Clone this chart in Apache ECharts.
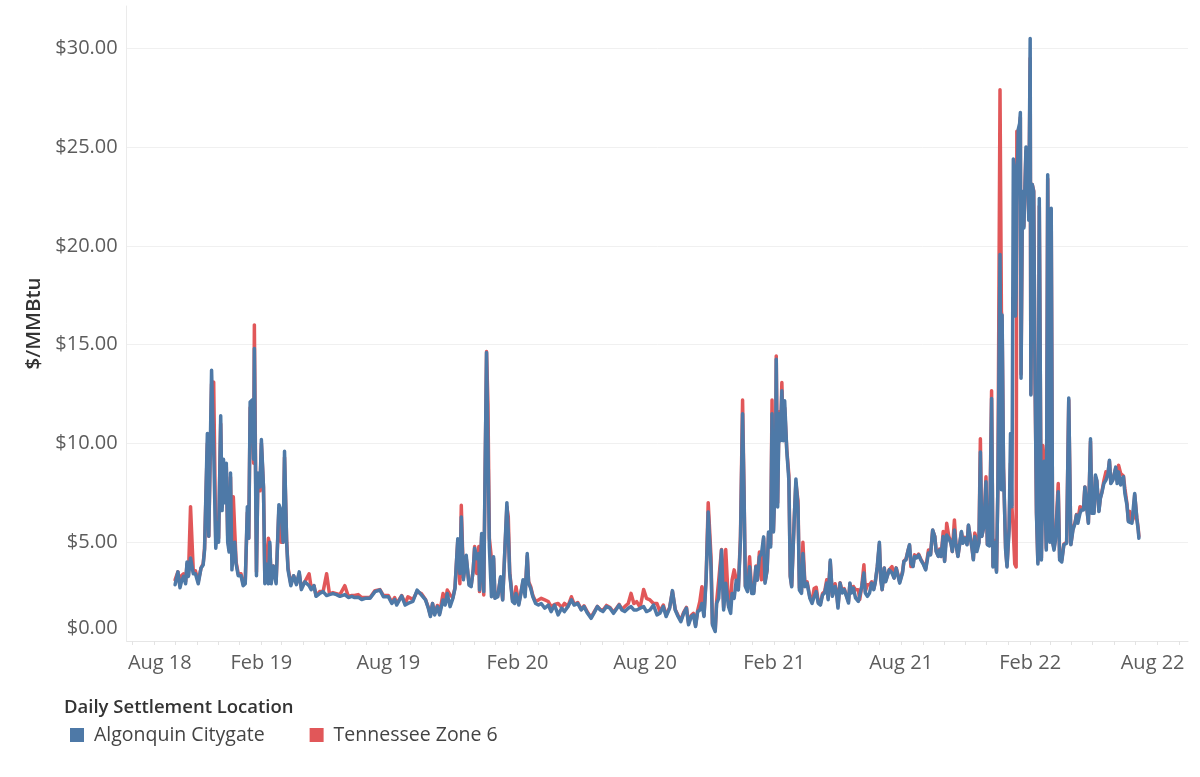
<!DOCTYPE html>
<html>
<head>
<meta charset="utf-8">
<script src="https://cdn.jsdelivr.net/npm/echarts@6.0.0/dist/echarts.min.js"></script>
<style>
  html, body { margin: 0; padding: 0; background: #ffffff; }
  #chart { width: 1200px; height: 777px; }
</style>
</head>
<body>
<div id="chart"></div>
<script>
// ---- Data (Daily settlement prices, $/MMBtu) ----
const dates = [
'2018-10-01','2018-10-05','2018-10-08','2018-10-10','2018-10-13','2018-10-16','2018-10-18','2018-10-20','2018-10-23','2018-10-27',
'2018-10-30','2018-11-03','2018-11-07','2018-11-10','2018-11-12','2018-11-16','2018-11-18','2018-11-22','2018-11-25','2018-11-28',
'2018-12-01','2018-12-02','2018-12-05','2018-12-07','2018-12-09','2018-12-11','2018-12-13','2018-12-15','2018-12-17','2018-12-19',
'2018-12-21','2018-12-23','2018-12-25','2018-12-27','2018-12-30','2019-01-03','2019-01-06','2019-01-09','2019-01-12','2019-01-14',
'2019-01-16','2019-01-19','2019-01-21','2019-01-22','2019-01-25','2019-01-27','2019-01-30','2019-02-01','2019-02-04','2019-02-06',
'2019-02-08','2019-02-11','2019-02-13','2019-02-15','2019-02-18','2019-02-20','2019-02-22','2019-02-26','2019-03-01','2019-03-04',
'2019-03-06','2019-03-09','2019-03-11','2019-03-15','2019-03-19','2019-03-23','2019-03-27','2019-03-30','2019-04-04','2019-04-10',
'2019-04-13','2019-04-17','2019-04-20','2019-04-25','2019-04-30','2019-05-05','2019-05-09','2019-05-14','2019-05-19','2019-05-24',
'2019-05-31','2019-06-05','2019-06-10','2019-06-14','2019-06-19','2019-06-24','2019-06-29','2019-07-06','2019-07-13','2019-07-20',
'2019-07-25','2019-08-01','2019-08-06','2019-08-10','2019-08-13','2019-08-20','2019-08-25','2019-08-29','2019-09-05','2019-09-11',
'2019-09-17','2019-09-23','2019-09-27','2019-09-30','2019-10-03','2019-10-06','2019-10-10','2019-10-13','2019-10-18','2019-10-21',
'2019-10-24','2019-10-28','2019-11-01','2019-11-04','2019-11-08','2019-11-11','2019-11-13','2019-11-16','2019-11-20','2019-11-24',
'2019-11-27','2019-11-30','2019-12-02','2019-12-05','2019-12-08','2019-12-09','2019-12-12','2019-12-15','2019-12-17','2019-12-19',
'2019-12-21','2019-12-23','2019-12-26','2019-12-29','2019-12-31','2020-01-04','2020-01-08','2020-01-11','2020-01-13','2020-01-17',
'2020-01-19','2020-01-21','2020-01-25','2020-01-28','2020-01-30','2020-02-03','2020-02-06','2020-02-09','2020-02-12','2020-02-15',
'2020-02-17','2020-02-20','2020-02-23','2020-02-27','2020-03-02','2020-03-06','2020-03-11','2020-03-16','2020-03-20','2020-03-25',
'2020-03-30','2020-04-04','2020-04-08','2020-04-13','2020-04-18','2020-04-22','2020-04-27','2020-05-02','2020-05-06','2020-05-11',
'2020-05-16','2020-05-20','2020-05-25','2020-05-29','2020-06-02','2020-06-07','2020-06-12','2020-06-17','2020-06-22','2020-06-25',
'2020-06-29','2020-07-03','2020-07-08','2020-07-12','2020-07-16','2020-07-20','2020-07-25','2020-07-30','2020-08-03','2020-08-08',
'2020-08-13','2020-08-18','2020-08-22','2020-08-27','2020-08-31','2020-09-05','2020-09-09','2020-09-13','2020-09-17','2020-09-21',
'2020-09-25','2020-09-29','2020-10-02','2020-10-06','2020-10-09','2020-10-12','2020-10-15','2020-10-18','2020-10-21','2020-10-24',
'2020-10-27','2020-10-30','2020-11-03','2020-11-05','2020-11-09','2020-11-11','2020-11-14','2020-11-18','2020-11-21','2020-11-24',
'2020-11-28','2020-12-01','2020-12-03','2020-12-06','2020-12-09','2020-12-12','2020-12-15','2020-12-18','2020-12-20','2020-12-22',
'2020-12-25','2020-12-28','2020-12-31','2021-01-03','2021-01-06','2021-01-08','2021-01-11','2021-01-14','2021-01-17','2021-01-19',
'2021-01-22','2021-01-24','2021-01-27','2021-01-29','2021-01-31','2021-02-03','2021-02-04','2021-02-06','2021-02-08','2021-02-10',
'2021-02-12','2021-02-14','2021-02-16','2021-02-19','2021-02-22','2021-02-24','2021-02-26','2021-03-02','2021-03-04','2021-03-07',
'2021-03-09','2021-03-12','2021-03-14','2021-03-17','2021-03-20','2021-03-24','2021-03-27','2021-03-30','2021-04-02','2021-04-05',
'2021-04-08','2021-04-11','2021-04-14','2021-04-17','2021-04-19','2021-04-22','2021-04-25','2021-04-29','2021-05-01','2021-05-03',
'2021-05-06','2021-05-09','2021-05-12','2021-05-15','2021-05-18','2021-05-20','2021-05-22','2021-05-25','2021-05-28','2021-06-01',
'2021-06-03','2021-06-06','2021-06-09','2021-06-11','2021-06-14','2021-06-17','2021-06-20','2021-06-23','2021-06-25','2021-06-28',
'2021-07-01','2021-07-03','2021-07-05','2021-07-08','2021-07-10','2021-07-12','2021-07-15','2021-07-17','2021-07-19','2021-07-22',
'2021-07-25','2021-07-27','2021-07-30','2021-08-03','2021-08-05','2021-08-08','2021-08-11','2021-08-13','2021-08-15','2021-08-18',
'2021-08-20','2021-08-23','2021-08-26','2021-08-29','2021-09-02','2021-09-05','2021-09-07','2021-09-09','2021-09-12','2021-09-15',
'2021-09-18','2021-09-20','2021-09-23','2021-09-25','2021-09-27','2021-09-30','2021-10-02','2021-10-05','2021-10-08','2021-10-11',
'2021-10-13','2021-10-16','2021-10-18','2021-10-21','2021-10-23','2021-10-26','2021-10-28','2021-10-31','2021-11-03','2021-11-05',
'2021-11-07','2021-11-10','2021-11-12','2021-11-14','2021-11-17','2021-11-20','2021-11-22','2021-11-24','2021-11-27','2021-11-30',
'2021-12-02','2021-12-05','2021-12-08','2021-12-10','2021-12-12','2021-12-15','2021-12-17','2021-12-20','2021-12-22','2021-12-23',
'2021-12-25','2021-12-28','2021-12-30','2022-01-02','2022-01-04','2022-01-06','2022-01-08','2022-01-10','2022-01-11','2022-01-12',
'2022-01-13','2022-01-15','2022-01-17','2022-01-18','2022-01-19','2022-01-21','2022-01-23','2022-01-26','2022-01-28','2022-01-30',
'2022-02-01','2022-02-02','2022-02-04','2022-02-06','2022-02-08','2022-02-10','2022-02-12','2022-02-14','2022-02-17','2022-02-19',
'2022-02-21','2022-02-24','2022-02-26','2022-02-28','2022-03-01','2022-03-03','2022-03-05','2022-03-07','2022-03-09','2022-03-13',
'2022-03-15','2022-03-18','2022-03-21','2022-03-25','2022-03-28','2022-03-31','2022-04-03','2022-04-06','2022-04-08','2022-04-10',
'2022-04-13','2022-04-15','2022-04-18','2022-04-20','2022-04-23','2022-04-25','2022-04-28','2022-04-30','2022-05-03','2022-05-05',
'2022-05-07','2022-05-10','2022-05-12','2022-05-14','2022-05-17','2022-05-20','2022-05-23','2022-05-25','2022-05-27','2022-05-30',
'2022-06-03','2022-06-05','2022-06-07','2022-06-10','2022-06-12','2022-06-14','2022-06-16','2022-06-19','2022-06-21','2022-06-23',
'2022-06-26','2022-06-28','2022-06-30','2022-07-03','2022-07-05','2022-07-06'
];

const algonquin = [
2.85,3.5,2.7,3.0,3.27,2.9,4.0,3.27,4.2,3.4,
3.4,2.9,3.7,3.85,4.6,10.5,5.3,13.7,9.65,4.7,
6.0,5.0,11.4,6.6,9.2,7.0,9.0,5.0,4.5,8.5,
3.6,4.5,5.0,3.9,3.3,3.3,2.8,2.9,6.8,5.2,
12.1,12.2,9.2,14.8,3.3,8.5,7.8,10.2,7.8,2.9,
3.9,2.9,5.0,2.9,3.8,3.8,2.9,6.9,6.6,5.0,
9.6,5.0,3.6,2.8,3.3,2.85,3.5,2.6,3.0,2.8,
2.6,2.8,2.26,2.4,2.5,2.3,2.35,2.4,2.35,2.26,
2.35,2.2,2.26,2.2,2.22,2.1,2.16,2.16,2.5,2.58,
2.24,2.24,1.9,2.1,1.82,2.28,1.82,1.9,2.0,2.58,
2.33,2.08,1.66,1.24,1.9,1.32,1.74,1.32,2.08,1.82,
2.4,1.74,2.16,2.66,5.18,3.42,6.28,3.1,4.34,2.83,
2.75,3.6,4.7,4.17,4.43,2.58,5.44,2.5,8.8,14.6,
10.0,4.76,2.24,4.26,2.16,2.24,3.25,2.08,2.16,7.0,
5.5,3.42,2.0,1.9,2.4,1.82,2.41,3.1,2.24,4.43,
2.92,2.66,2.24,1.9,1.82,1.9,1.66,1.82,1.49,1.82,
1.32,1.66,1.49,1.74,2.08,1.82,1.9,1.57,1.74,1.4,
1.15,1.4,1.74,1.57,1.49,1.74,1.66,1.4,1.66,1.82,
1.57,1.49,1.66,1.74,1.57,1.57,1.66,1.74,1.49,1.57,
1.82,1.32,1.4,1.74,1.24,1.66,2.55,1.57,1.24,0.98,
1.4,1.66,0.82,1.24,1.32,0.73,1.49,1.57,1.9,1.24,
3.08,6.53,3.76,0.82,0.48,1.9,2.16,4.6,1.57,2.92,
1.74,1.4,2.41,2.16,3.08,2.58,5.1,11.5,7.6,2.75,
2.5,3.76,2.41,2.41,3.76,3.08,4.26,4.43,5.27,2.92,
3.6,5.52,4.76,11.5,5.52,8.8,14.26,6.78,11.5,10.14,
12.66,10.14,12.16,9.64,8.13,3.25,2.75,6.45,8.2,6.78,
2.58,2.41,4.43,2.75,2.92,2.16,1.9,2.24,2.5,1.9,
1.82,2.33,2.43,2.93,2.09,4.1,2.26,2.76,2.43,1.67,
2.93,2.43,2.6,2.26,1.92,2.93,2.43,2.68,2.18,2.0,
2.0,2.76,3.44,2.43,2.26,2.43,2.93,2.6,2.93,3.77,
5.0,3.1,2.6,3.69,3.0,3.1,3.6,3.69,3.44,3.18,
3.69,3.77,2.93,3.44,4.03,4.11,4.6,4.87,3.94,3.77,
4.28,4.2,4.36,4.11,3.86,3.6,3.52,4.45,4.36,5.62,
5.29,4.53,4.28,4.61,4.28,5.29,4.03,5.37,5.2,4.95,
4.53,5.62,4.95,4.28,4.78,5.54,4.95,5.2,4.87,5.87,
5.37,4.7,4.11,5.29,4.53,4.95,9.57,5.29,5.79,8.06,
4.87,4.81,12.27,3.75,5.0,3.48,7.83,19.56,7.66,16.5,
8.72,4.6,3.75,5.7,10.5,6.8,24.4,23.8,16.45,17.6,
22.0,25.9,26.2,26.75,13.3,22.75,20.9,25.0,24.7,21.3,
30.5,12.45,23.1,22.75,13.2,6.4,3.9,22.4,4.1,8.4,
9.1,4.6,23.6,23.5,5.0,21.9,5.0,4.6,5.1,7.55,
4.1,4.0,4.87,4.95,12.3,4.87,5.62,5.96,6.38,5.96,
6.46,6.63,6.63,7.8,6.63,5.96,10.24,6.46,6.46,8.4,
8.14,6.55,7.2,7.47,7.97,8.14,8.48,9.15,7.97,8.14,
8.8,7.97,8.56,7.9,8.2,8.31,7.47,6.88,6.04,5.96,
5.96,5.96,7.47,6.2,5.62,5.2
];

const tennessee = [
3.1,3.5,2.8,3.3,3.4,3.0,3.9,3.3,6.8,3.5,
3.55,3.0,3.7,3.9,4.7,10.0,5.3,13.0,13.1,5.0,
6.0,5.2,11.0,6.8,9.0,7.2,8.8,5.3,4.6,8.3,
4.2,7.3,5.6,4.0,3.4,3.4,2.9,3.0,6.5,5.2,
11.8,12.0,9.0,16.0,3.5,8.2,7.6,10.0,7.8,3.0,
3.9,5.2,4.8,3.1,3.8,3.9,3.0,6.7,5.0,5.0,
9.3,5.1,3.7,2.9,3.3,2.9,3.4,2.7,3.0,3.4,
2.7,2.8,2.3,2.5,2.5,3.4,2.4,2.45,2.4,2.35,
2.8,2.25,2.3,2.3,2.35,2.2,2.2,2.2,2.55,2.6,
2.3,2.3,1.95,2.2,1.9,2.3,1.9,2.24,2.1,2.5,
2.4,2.1,1.7,1.3,1.9,1.4,1.8,1.4,2.4,1.9,
2.58,2.33,2.2,2.7,5.1,2.9,6.87,3.2,4.2,2.9,
2.8,3.6,4.78,3.42,4.78,2.5,5.3,2.33,8.6,14.65,
12.0,5.2,4.17,4.17,2.2,2.3,3.2,2.1,2.2,6.8,
6.28,3.5,2.1,2.0,2.75,1.9,2.45,3.0,2.4,4.3,
3.0,2.75,2.3,2.0,2.08,2.16,2.08,2.0,1.74,1.85,
1.9,1.7,1.9,1.75,2.24,1.85,1.95,1.6,1.78,1.45,
1.2,1.45,1.75,1.6,1.55,1.8,1.7,1.45,1.7,1.85,
1.6,1.74,1.9,2.41,1.9,1.99,1.7,2.61,2.16,2.08,
1.9,1.9,1.5,1.82,1.3,1.7,2.5,1.6,1.3,1.05,
1.45,1.7,0.9,1.3,1.4,0.8,1.55,1.99,2.75,1.3,
3.2,7.0,4.26,0.9,0.55,2.0,3.08,4.63,1.7,4.63,
1.8,2.0,3.08,3.6,3.1,2.7,5.3,12.2,7.8,2.8,
2.6,4.26,2.5,2.5,3.8,3.1,4.5,3.1,5.2,3.0,
3.6,5.44,4.9,12.2,5.6,9.0,14.43,7.0,11.6,10.2,
13.08,10.2,11.8,9.7,8.4,3.3,2.8,6.5,8.0,7.1,
2.7,2.5,5.0,2.8,3.0,2.2,2.0,2.66,2.72,1.95,
1.9,2.4,2.5,3.1,2.2,4.0,2.3,2.9,2.5,1.75,
2.95,2.5,2.65,2.3,2.0,2.9,2.5,2.76,2.6,2.6,
2.1,2.8,3.86,2.5,2.85,2.85,3.0,2.65,2.95,3.7,
4.9,3.2,2.6,3.7,3.05,3.15,3.6,3.7,3.77,3.2,
3.7,3.8,3.0,3.5,4.05,4.15,4.6,4.85,3.77,3.8,
4.36,4.25,4.4,4.15,3.9,3.65,3.55,4.61,4.4,5.6,
5.3,4.55,4.3,4.65,4.28,5.54,4.05,5.96,5.3,5.0,
4.53,6.13,5.0,4.3,4.8,5.5,5.11,5.25,4.9,5.85,
5.4,4.75,4.15,5.46,5.11,5.0,10.24,5.3,5.8,8.31,
4.9,4.85,12.66,3.8,5.1,3.55,7.9,27.9,16.7,16.2,
8.8,4.7,3.8,5.8,9.0,6.8,5.5,3.9,4.0,3.75,
25.8,25.6,26.0,26.5,13.5,22.5,21.0,24.8,24.5,21.5,
29.5,12.5,23.1,22.8,13.0,6.5,4.0,22.0,4.2,9.9,
9.0,4.7,23.4,23.3,5.1,21.6,5.0,4.7,5.2,7.97,
4.2,4.1,4.9,5.0,12.2,4.9,5.7,6.0,6.4,6.1,
6.8,6.7,6.7,7.8,6.7,6.0,10.1,6.5,6.55,8.3,
8.1,6.6,7.25,7.5,8.1,8.56,8.5,9.1,8.0,8.2,
8.75,8.1,8.9,8.48,8.48,8.35,7.72,6.95,6.1,6.55,
6.05,6.2,7.4,6.25,5.7,5.3
];

// Axis tick labels
const xTickLabels = ['Aug 18','Feb 19','Aug 19','Feb 20','Aug 20','Feb 21','Aug 21','Feb 22','Aug 22'];
const xTickDates  = ['2018-08-01','2019-02-01','2019-08-01','2020-02-01','2020-08-01','2021-02-01','2021-08-01','2022-02-01','2022-08-01'];
const yTickValues = [0, 5, 10, 15, 20, 25, 30];

const seriesNames = ['Algonquin Citygate', 'Tennessee Zone 6'];
const seriesColors = ['#4e79a7', '#e15759'];

// ---- helpers ----
function ts(s) {
  const p = s.split('-').map(Number);
  return Date.UTC(p[0], p[1] - 1, p[2]);
}
const monthTicks = [];
{
  let y = 2018, m = 7;
  while (y < 2022 || (y === 2022 && m <= 8)) {
    monthTicks.push(Date.UTC(y, m, 1));
    m++;
    if (m > 11) { m = 0; y++; }
  }
}
const labelTicks = xTickDates.map(ts);
const labelMap = {};
labelTicks.forEach((t, i) => { labelMap[t] = i; });

const FONT = "'Open Sans', 'Noto Sans', sans-serif";
const LABEL_COLOR = '#5c5c5c';
const AX_FS = 20;

const chart = echarts.init(document.getElementById('chart'), null, { renderer: 'canvas' });
chart.setOption({
  animation: false,
  backgroundColor: '#ffffff',
  title: {
    text: 'Daily Settlement Location',
    left: 64, top: 697, padding: 0,
    textStyle: { fontFamily: FONT, fontSize: 18.5, fontWeight: 600, color: '#333333', lineHeight: 22 }
  },
  legend: {
    data: seriesNames,
    left: 70, top: 725, padding: 0,
    icon: 'rect', itemWidth: 14, itemHeight: 14, itemGap: 45,
    selectedMode: false,
    textStyle: { fontFamily: FONT, fontSize: 19.5, color: '#444444', padding: [0, 0, 0, 5], lineHeight: 19 }
  },
  grid: { left: 126.7, right: 12, top: 6, bottom: 136 },
  xAxis: {
    type: 'value',
    min: ts('2018-07-24'),
    max: ts('2022-09-14'),
    axisLine: { show: true, lineStyle: { color: '#e6e6e6', width: 1 } },
    axisTick: { show: true, customValues: monthTicks, length: 4, lineStyle: { color: '#e3e3e3' } },
    splitLine: { show: false },
    axisLabel: {
      customValues: labelTicks,
      margin: 12,
      fontFamily: FONT, fontSize: AX_FS, color: LABEL_COLOR, lineHeight: 20,
      formatter: function (v) {
        const i = labelMap[v];
        if (i === undefined) return '';
        if (i === 0) return '{f|' + xTickLabels[i] + '}';
        if (i === xTickLabels.length - 1) return '{l|' + xTickLabels[i] + '}';
        return xTickLabels[i];
      },
      rich: {
        f: { fontFamily: FONT, fontSize: AX_FS, color: LABEL_COLOR, padding: [0, 0, 0, 55] },
        l: { fontFamily: FONT, fontSize: AX_FS, color: LABEL_COLOR, padding: [0, 9, 0, 0] }
      }
    }
  },
  yAxis: {
    type: 'value',
    min: 0, max: 32.14, interval: 5,
    name: '$/MMBtu', nameLocation: 'middle', nameRotate: 90, nameGap: 82,
    nameTextStyle: { fontFamily: FONT, fontSize: 20.5, fontWeight: 600, color: '#333333' },
    axisLine: { show: true, lineStyle: { color: '#ebebeb', width: 1 } },
    axisTick: { show: false },
    splitLine: { show: true, showMaxLine: false, lineStyle: { color: '#f0f0f0', width: 1 } },
    axisLabel: {
      margin: 9, showMaxLabel: false,
      fontFamily: FONT, fontSize: AX_FS, color: LABEL_COLOR,
      formatter: function (v) {
        if (yTickValues.indexOf(v) < 0) return '';
        if (v === 0) return '{z|$0.00}';
        return '$' + v.toFixed(2);
      },
      rich: { z: { fontFamily: FONT, fontSize: AX_FS, color: LABEL_COLOR, padding: [0, 0, 26, 0] } }
    }
  },
  series: [
    {
      name: seriesNames[1], type: 'line', symbol: 'none', showSymbol: false,
      data: dates.map((d, i) => [ts(d), tennessee[i]]),
      lineStyle: { color: seriesColors[1], width: 3.5, join: 'round', cap: 'round' },
      itemStyle: { color: seriesColors[1] }, z: 2
    },
    {
      name: seriesNames[0], type: 'line', symbol: 'none', showSymbol: false,
      data: dates.map((d, i) => [ts(d), algonquin[i]]),
      lineStyle: { color: seriesColors[0], width: 3.5, join: 'round', cap: 'round' },
      itemStyle: { color: seriesColors[0] }, z: 3
    }
  ]
});
</script>
</body>
</html>
